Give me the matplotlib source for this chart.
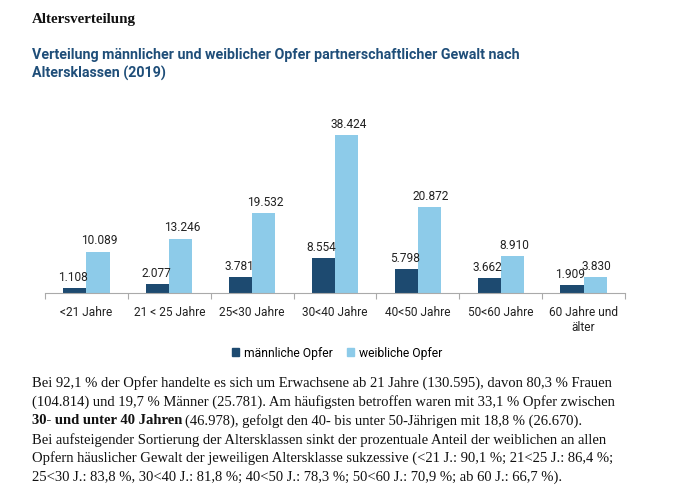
import matplotlib
matplotlib.use("Agg")
import matplotlib.pyplot as plt
from matplotlib.patches import Patch

categories = ["<21 Jahre", "21 < 25 Jahre", "25<30 Jahre", "30<40 Jahre",
              "40<50 Jahre", "50<60 Jahre", "60 Jahre und\nälter"]
maennlich = [1108, 2077, 3781, 8554, 5798, 3662, 1909]
weiblich = [10089, 13246, 19532, 38424, 20872, 8910, 3830]
series_names = ["männliche Opfer", "weibliche Opfer"]

dark = "#1d4a70"
light = "#8dcbe9"
title_blue = "#1f4e79"

def fmt(v):
    return f"{v:,}".replace(",", ".")

fig = plt.figure(figsize=(6.9, 4.96), dpi=100)
fig.patch.set_facecolor("white")

ax = fig.add_axes([45/690, 1-293/496, 580/690, 164.5/496])
w = 0.28
x = list(range(len(categories)))
ax.bar([i - w/2 for i in x], maennlich, width=w, color=dark)
ax.bar([i + w/2 for i in x], weiblich, width=w, color=light)
sans = ["Roboto", "DejaVu Sans"]
lab_size = 8.6
for i in x:
    ax.text(i - w/2 - 0.02, maennlich[i] + 1000, fmt(maennlich[i]), ha="center", va="bottom",
            fontsize=lab_size, family=sans, color="#222222")
    ax.text(i + w/2 + 0.02, weiblich[i] + 1000, fmt(weiblich[i]), ha="center", va="bottom",
            fontsize=lab_size, family=sans, color="#222222")
ax.set_xlim(-0.5, 6.5)
ax.set_ylim(0, 40000)
ax.set_yticks([])
for s in ["top", "right", "left"]:
    ax.spines[s].set_visible(False)
ax.spines["bottom"].set_color("#aaaaaa")
ax.set_xticks([i - 0.5 for i in range(8)], minor=False)
ax.set_xticklabels([])
ax.tick_params(axis="x", which="major", length=4, color="#aaaaaa")
ax.set_xticks(x, minor=True)
ax.set_xticklabels(categories, minor=True, fontsize=8.6, family=sans, color="#222222",
                   linespacing=1.25)
ax.tick_params(axis="x", which="minor", length=0, pad=9)

handles = [Patch(color=dark), Patch(color=light)]
fig.legend(handles, series_names, loc="center", bbox_to_anchor=(337/690, 1-353/496),
           ncol=2, frameon=False, prop={"family": sans, "size": 8.7},
           handlelength=0.6, handleheight=0.6, handletextpad=0.4, columnspacing=1.2)

fig.text(32/690, 1-20/496, "Altersverteilung", fontsize=10.8, family="Liberation Serif",
         weight="bold", color="#111111", va="center")
fig.text(32/690, 1-55/496, "Verteilung männlicher und weiblicher Opfer partnerschaftlicher Gewalt nach",
         fontsize=10.3, family=sans, weight="bold", color=title_blue, va="center")
fig.text(32/690, 1-73/496, "Altersklassen (2019)",
         fontsize=10.3, family=sans, weight="bold", color=title_blue, va="center")

serif = "Liberation Serif"
body_size = 10.5
lines_y = [383, 402, 421, 440, 458, 477]
fig.text(32/690, 1-lines_y[0]/496,
         "Bei 92,1 % der Opfer handelte es sich um Erwachsene ab 21 Jahre (130.595), davon 80,3 % Frauen",
         fontsize=body_size, family=serif, va="center", color="#111111")
fig.text(32/690, 1-lines_y[1]/496,
         "(104.814) und 19,7 % Männer (25.781). Am häufigsten betroffen waren mit 33,1 % Opfer zwischen",
         fontsize=body_size, family=serif, va="center", color="#111111")
tb = fig.text(32/690, 1-lines_y[2]/496, "30- und unter 40 Jahren",
              fontsize=body_size, family=serif, weight="bold", va="center", color="#111111")
fig.canvas.draw()
bb = tb.get_window_extent(renderer=fig.canvas.get_renderer())
fig.text(bb.x1/690 + 3/690, 1-lines_y[2]/496,
         "(46.978), gefolgt den 40- bis unter 50-Jährigen mit 18,8 % (26.670).",
         fontsize=body_size, family=serif, va="center", color="#111111")
fig.text(32/690, 1-lines_y[3]/496,
         "Bei aufsteigender Sortierung der Altersklassen sinkt der prozentuale Anteil der weiblichen an allen",
         fontsize=body_size, family=serif, va="center", color="#111111")
fig.text(32/690, 1-lines_y[4]/496,
         "Opfern häuslicher Gewalt der jeweiligen Altersklasse sukzessive (<21 J.: 90,1 %; 21<25 J.: 86,4 %;",
         fontsize=body_size, family=serif, va="center", color="#111111")
fig.text(32/690, 1-lines_y[5]/496,
         "25<30 J.: 83,8 %, 30<40 J.: 81,8 %; 40<50 J.: 78,3 %; 50<60 J.: 70,9 %; ab 60 J.: 66,7 %).",
         fontsize=body_size, family=serif, va="center", color="#111111")

fig.savefig("out.png", dpi=100, facecolor="white")
